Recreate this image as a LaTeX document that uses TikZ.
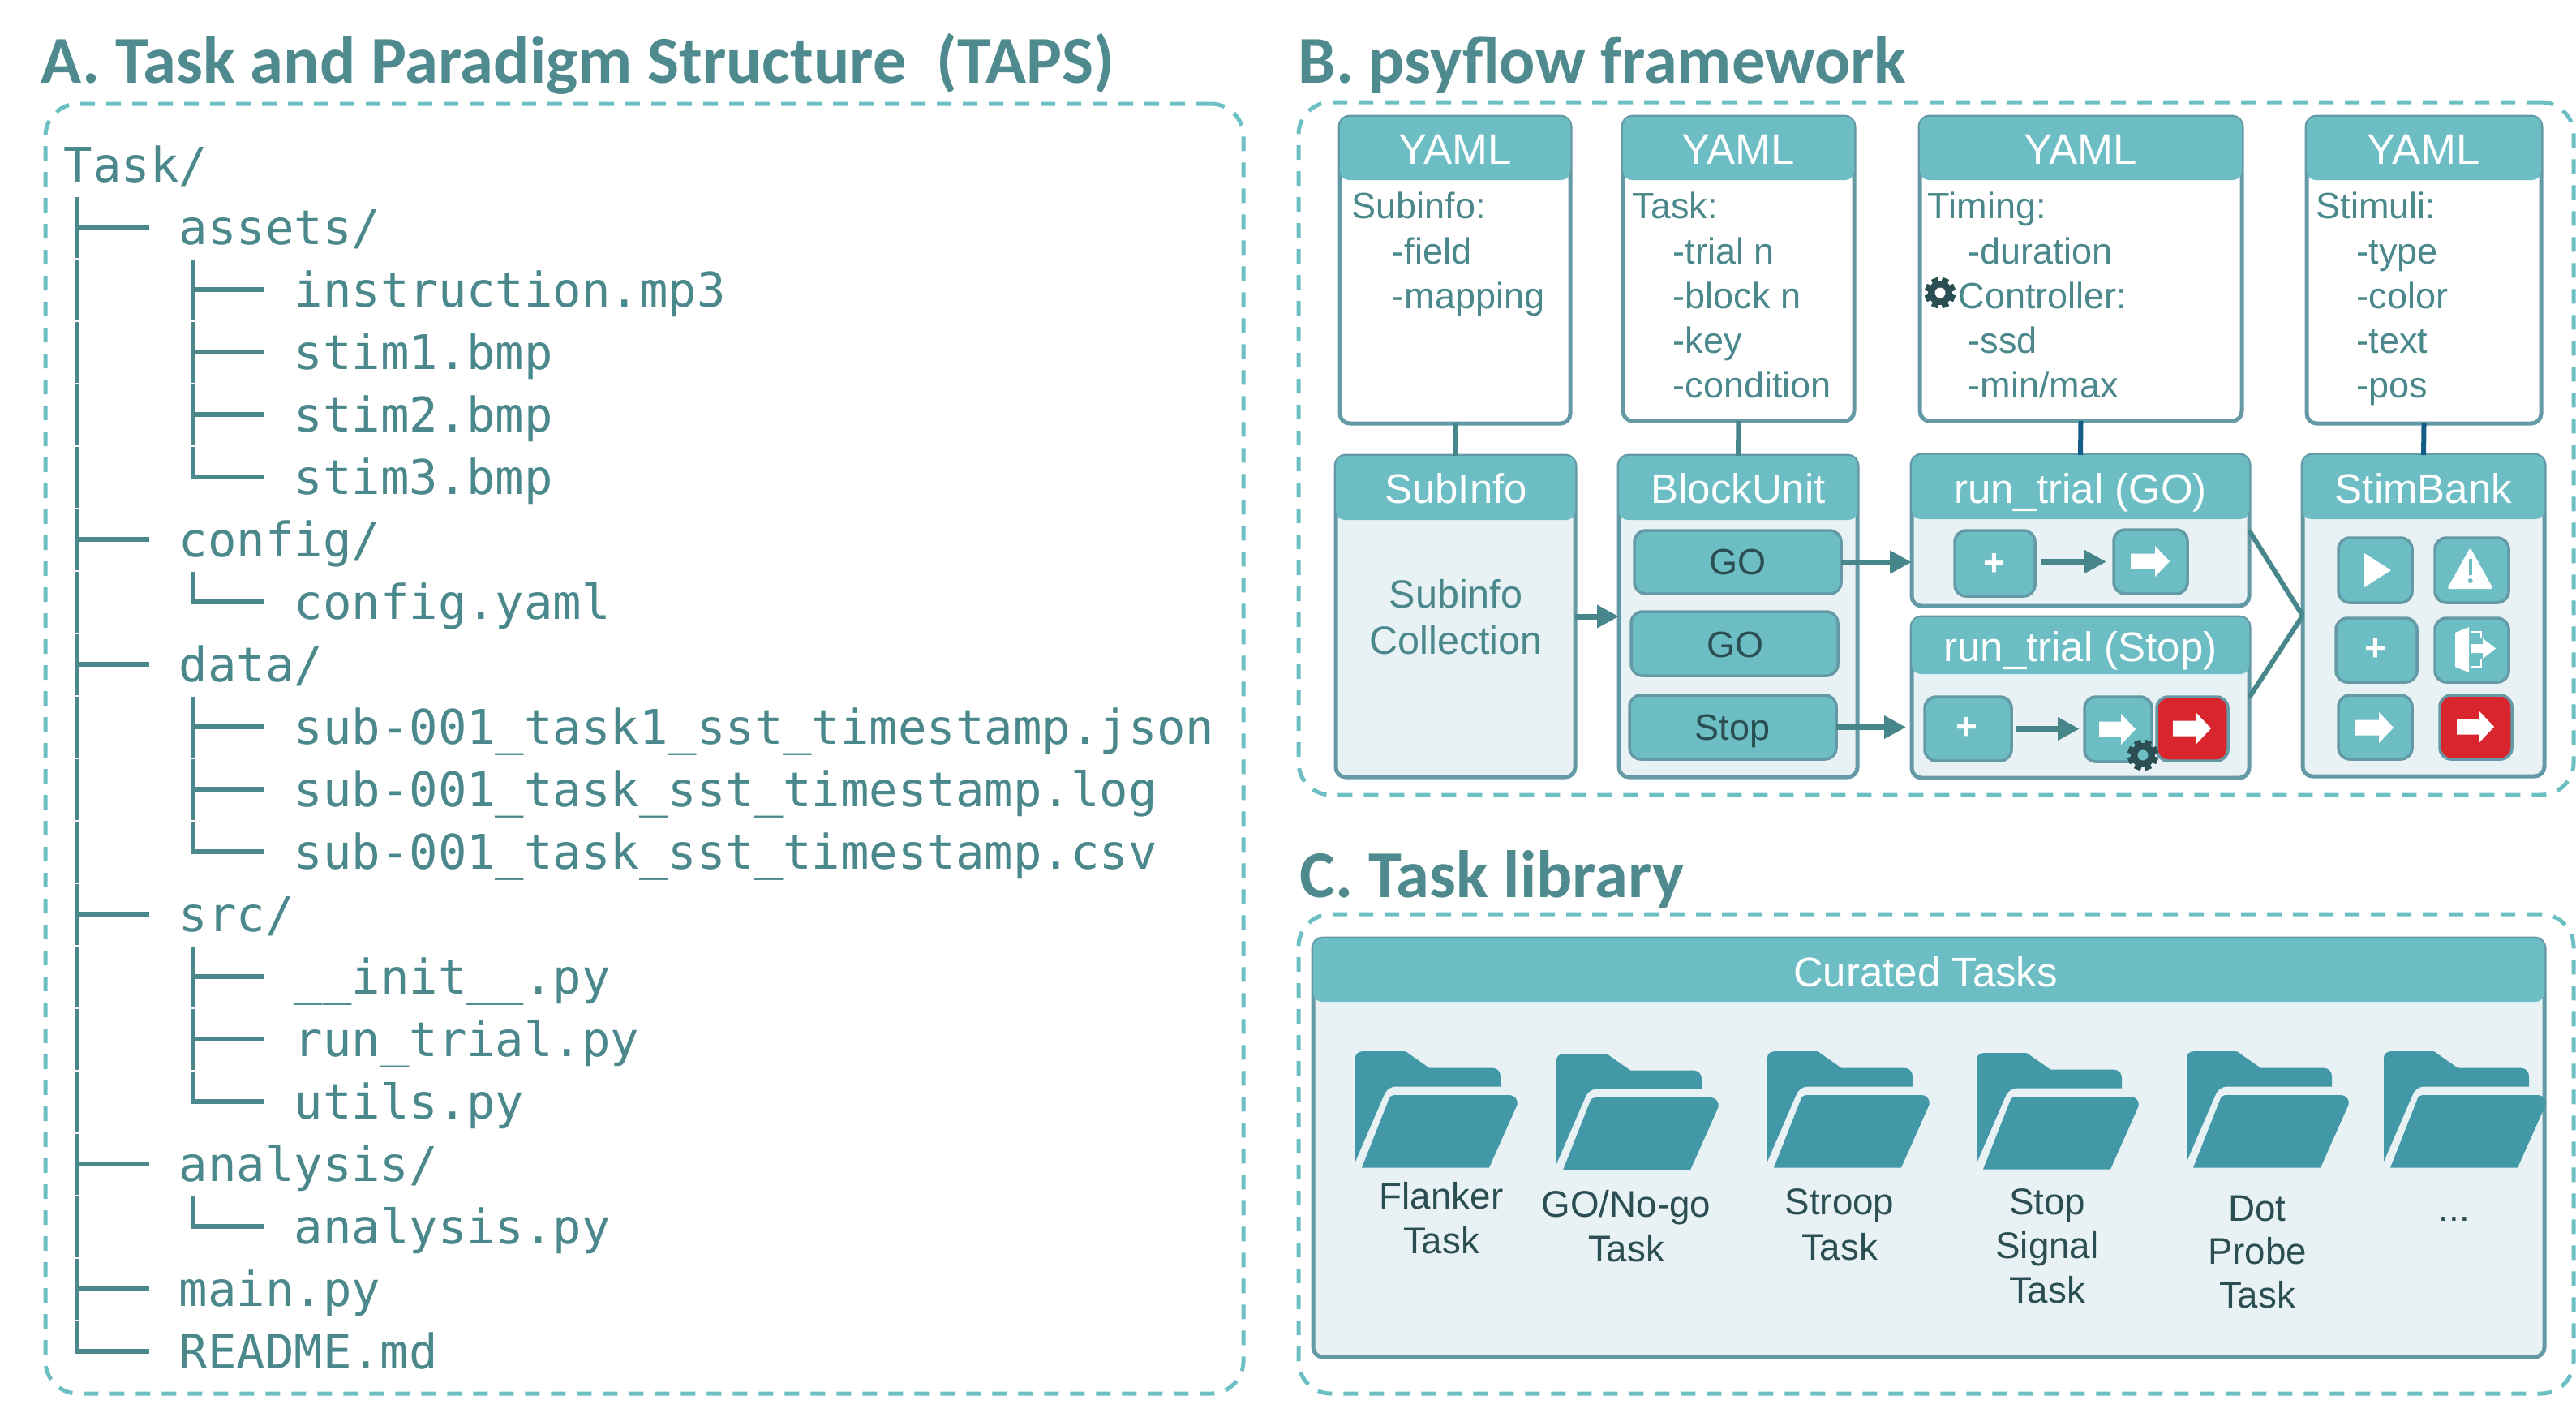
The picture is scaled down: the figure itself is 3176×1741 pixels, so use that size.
\documentclass[tikz,border=0pt]{standalone}
\usepackage{fontspec}
\usetikzlibrary{arrows.meta}
\setmainfont{Liberation Sans}
\newfontfamily\titlefnt{Carlito}
\newfontfamily\monofnt{DejaVu Sans Mono}
\newdimen\pxu \pxu=0.01cm
\definecolor{headteal}{HTML}{6CBEC4}
\definecolor{borderteal}{HTML}{6499A6}
\definecolor{bodytint}{HTML}{E8F1F3}
\definecolor{texteal}{HTML}{4A888C}
\definecolor{titleteal}{HTML}{4F8A8E}
\definecolor{darkteal}{HTML}{2A4E52}
\definecolor{folderteal}{HTML}{4298A6}
\definecolor{dashteal}{HTML}{6CC0C4}
\definecolor{linkteal}{HTML}{47868A}
\definecolor{linkblue}{HTML}{145E85}
\definecolor{alarmred}{HTML}{D9262E}
\tikzset{
  panelbox/.style={draw=dashteal,line width=5\pxu,rounded corners=40\pxu,dash pattern=on 18\pxu off 14\pxu},
  cardbody/.style={draw=borderteal,line width=5\pxu,rounded corners=12\pxu},
  cardhead/.style={fill=headteal,rounded corners=11\pxu},
  innerbtn/.style={draw=borderteal,fill=headteal,line width=3.5\pxu,rounded corners=14\pxu},
  redbtn/.style={draw=borderteal,fill=alarmred,line width=3.5\pxu,rounded corners=14\pxu},
  titletext/.style={text=titleteal,font={\titlefnt\bfseries\fontsize{23.5}{25}\selectfont}},
  treetext/.style={text=texteal,font={\monofnt\fontsize{16.75}{18}\selectfont},anchor=base west,inner sep=0},
  headtext/.style={text=white,font={\fontsize{14.5}{16}\selectfont},anchor=base,inner sep=0},
  yamltext/.style={text=white,font={\fontsize{15}{17}\selectfont},anchor=base,inner sep=0},
  bodytext/.style={text=texteal,font={\fontsize{12.8}{14}\selectfont},anchor=base west,inner sep=0},
  midtext/.style={text=texteal,font={\fontsize{13.8}{15}\selectfont},anchor=base,inner sep=0},
  btntext/.style={text=darkteal,font={\fontsize{12.8}{14}\selectfont},anchor=base,inner sep=0},
  foldertext/.style={text=darkteal,font={\fontsize{13}{14}\selectfont},anchor=base,inner sep=0},
  plustext/.style={text=white,font={\bfseries\fontsize{13.1}{14}\selectfont},inner sep=0},
  treeline/.style={draw=texteal},
  link/.style={draw=linkteal,line width=6\pxu},
  bluelink/.style={draw=linkblue,line width=6\pxu},
  flow/.style={draw=linkteal,line width=7\pxu,-{Triangle[length=0.27cm,width=0.27cm]}},
}
% box given by its edges
\newcommand\boxat[6]{\node[#1,inner sep=0,outer sep=0,minimum width={(#5-#3)*\pxu},minimum height={(#6-#4)*\pxu}] (#2) at ({(#3+#5)/2},{(#4+#6)/2}) {};}
% card: name, l, t, r, b, header bottom, body fill
\newcommand\card[7]{\boxat{cardbody,fill=#7}{#1}{#2}{#3}{#4}{#5}\boxat{cardhead}{#1-head}{#2}{#3}{#4}{#6}}
\newcommand\txt[5]{\node[#4] (#1) at (#2,#3) {#5};}
% tree rows
\newcommand\rowy[1]{(224.5+77*#1)}
\newcommand\treetee[2]{\draw[treeline,line width=5\pxu] ({#1},{\rowy{#2}-59}) -- ({#1},{\rowy{#2}+16});\draw[treeline,line width=6\pxu] ({#1},{\rowy{#2}-22}) -- ({#1+89},{\rowy{#2}-22});}
\newcommand\treeell[2]{\draw[treeline,line width=5\pxu] ({#1},{\rowy{#2}-59}) -- ({#1},{\rowy{#2}-19});\draw[treeline,line width=6\pxu] ({#1-2.5},{\rowy{#2}-22}) -- ({#1+89},{\rowy{#2}-22});}
\newcommand\treebar[2]{\draw[treeline,line width=5\pxu] ({#1},{\rowy{#2}-59}) -- ({#1},{\rowy{#2}+16});}
\newcommand\treeitem[4]{\node[treetext] (#1) at ({#2},{\rowy{#3}}) {#4};}
% block arrow: left x, right x, centre y, colour white
\newcommand\blockarrow[3]{\fill[white] (#1,{#3-9.5}) -- ({#2-18},{#3-9.5}) -- ({#2-18},{#3-19}) -- (#2,#3) -- ({#2-18},{#3+19}) -- ({#2-18},{#3+9.5}) -- (#1,{#3+9.5}) -- cycle;}
% gear: cx, cy, hole colour
\newcommand\gear[3]{\begin{scope}[shift={(#1,#2)}]
  \foreach \a in {0,45,...,315}{\fill[darkteal,rotate=\a+22.5] (-4,-19) rectangle (4,19);}
  \fill[darkteal] (0,0) circle (15);
  \fill[#3] (0,0) circle (6.5);
\end{scope}}
% folder: top left x, y
\newcommand\folder[2]{\begin{scope}[shift={(#1,#2)}]
  \fill[folderteal] (0,136) -- (0,8) .. controls (0,3) and (4,0) .. (10,0) -- (60,0) .. controls (63,0) and (64,1) .. (66,3) -- (91,20.5) -- (168,20.5) .. controls (175,20.5) and (179,25) .. (179,31) -- (179,43.5) -- (50,43.5) .. controls (42,43.5) and (37,49) .. (35,55) -- cycle;
  \fill[folderteal] (8,143.5) -- (41,60) .. controls (42,56) and (45,54) .. (49,54) -- (189,54) .. controls (197,54) and (201,60) .. (199.5,66) -- (165,143.5) -- cycle;
\end{scope}}
\begin{document}
\begin{tikzpicture}[x=0.01cm,y=-0.01cm]
\useasboundingbox (0,0) rectangle (3176,1741);
% titles
\node[titletext,anchor=base west,inner sep=0] (titleA) at (50,102) {A. Task and Paradigm Structure\ \ (TAPS)};
\node[titletext,anchor=base west,inner sep=0] (titleB) at (1600,102) {B. psyflow framework};
\node[titletext,anchor=base west,inner sep=0] (titleC) at (1602,1106) {C. Task library};
% panels
\boxat{panelbox}{panelA}{56}{128}{1533}{1718}
\boxat{panelbox}{panelB}{1601}{126}{3173}{980}
\boxat{panelbox}{panelC}{1601}{1127}{3173}{1718}
% tree
\treeitem{t0}{78}{0}{Task/}
\treeitem{t1}{220}{1}{assets/}
\treeitem{t2}{362}{2}{instruction.mp3}
\treeitem{t3}{362}{3}{stim1.bmp}
\treeitem{t4}{362}{4}{stim2.bmp}
\treeitem{t5}{362}{5}{stim3.bmp}
\treeitem{t6}{220}{6}{config/}
\treeitem{t7}{362}{7}{config.yaml}
\treeitem{t8}{220}{8}{data/}
\treeitem{t9}{362}{9}{sub-001\_task1\_sst\_timestamp.json}
\treeitem{t10}{362}{10}{sub-001\_task\_sst\_timestamp.log}
\treeitem{t11}{362}{11}{sub-001\_task\_sst\_timestamp.csv}
\treeitem{t12}{220}{12}{src/}
\treeitem{t13}{362}{13}{\_\_init\_\_.py}
\treeitem{t14}{362}{14}{run\_trial.py}
\treeitem{t15}{362}{15}{utils.py}
\treeitem{t16}{220}{16}{analysis/}
\treeitem{t17}{362}{17}{analysis.py}
\treeitem{t18}{220}{18}{main.py}
\treeitem{t19}{220}{19}{README.md}
\foreach \r in {1,6,8,12,16,18}{\treetee{95}{\r}}
\foreach \r in {2,3,4,5,7,9,10,11,13,14,15,17}{\treebar{95}{\r}}
\treeell{95}{19}
\foreach \r in {2,3,4,9,10,13,14}{\treetee{237}{\r}}
\foreach \r in {5,7,11,15,17}{\treeell{237}{\r}}
% YAML cards
\card{y1}{1652}{144}{1936}{522}{222}{white}
\card{y2}{2001}{144}{2286}{519}{222}{white}
\card{y3}{2367}{144}{2764}{519}{222}{white}
\card{y4}{2844}{144}{3133}{522}{222}{white}
\txt{y1t}{1794}{202}{yamltext}{YAML}
\txt{y2t}{2143}{202}{yamltext}{YAML}
\txt{y3t}{2565}{202}{yamltext}{YAML}
\txt{y4t}{2988}{202}{yamltext}{YAML}
\txt{y1a}{1666}{269}{bodytext}{Subinfo:}
\txt{y1b}{1716}{325}{bodytext}{-field}
\txt{y1c}{1716}{380}{bodytext}{-mapping}
\txt{y2a}{2012}{269}{bodytext}{Task:}
\txt{y2b}{2062}{325}{bodytext}{-trial n}
\txt{y2c}{2062}{380}{bodytext}{-block n}
\txt{y2d}{2062}{435}{bodytext}{-key}
\txt{y2e}{2062}{490}{bodytext}{-condition}
\txt{y3a}{2376}{269}{bodytext}{Timing:}
\txt{y3b}{2426}{325}{bodytext}{-duration}
\txt{y3c}{2414}{380}{bodytext}{Controller:}
\txt{y3d}{2426}{435}{bodytext}{-ssd}
\txt{y3e}{2426}{490}{bodytext}{-min/max}
\txt{y4a}{2855}{269}{bodytext}{Stimuli:}
\txt{y4b}{2905}{325}{bodytext}{-type}
\txt{y4c}{2905}{380}{bodytext}{-color}
\txt{y4d}{2905}{435}{bodytext}{-text}
\txt{y4e}{2905}{490}{bodytext}{-pos}
\gear{2392}{361}{white}
% class cards
\card{s1}{1647}{562}{1942}{958}{641}{bodytint}
\card{s2}{1996}{562}{2290}{958}{641}{bodytint}
\card{rgo}{2357}{561}{2773}{747}{640}{bodytint}
\card{rstop}{2357}{761}{2773}{959}{831}{bodytint}
\card{sb}{2839}{561}{3137}{957}{640}{bodytint}
\txt{s1t}{1795}{620}{headtext}{SubInfo}
\txt{s2t}{2143}{620}{headtext}{BlockUnit}
\txt{rgot}{2565}{620}{headtext}{run\_trial (GO)}
\txt{rstopt}{2565}{815}{headtext}{run\_trial (Stop)}
\txt{sbt}{2988}{620}{headtext}{StimBank}
\txt{s1a}{1795}{749}{midtext}{Subinfo}
\txt{s1b}{1795}{806}{midtext}{Collection}
% block buttons
\boxat{innerbtn}{go1}{2015}{654}{2270}{732}
\boxat{innerbtn}{go2}{2011}{754}{2266}{833}
\boxat{innerbtn}{stop}{2009}{857}{2264}{936}
\txt{go1t}{2142}{708}{btntext}{GO}
\txt{go2t}{2139}{810}{btntext}{GO}
\txt{stopt}{2136}{912}{btntext}{Stop}
% run_trial buttons
\boxat{innerbtn}{p1}{2410}{654}{2509}{735}
\boxat{innerbtn}{a1}{2606}{653}{2697}{732}
\boxat{innerbtn}{p2}{2373}{859}{2480}{938}
\boxat{innerbtn}{a2}{2570}{859}{2653}{939}
\boxat{redbtn}{r2}{2659}{859}{2747}{938}
\txt{p1t}{2459}{696}{plustext}{+}
\txt{p2t}{2425}{898}{plustext}{+}
\blockarrow{2627}{2675}{692}
\blockarrow{2588}{2633}{899}
\blockarrow{2679}{2726}{898}
\gear{2642}{931}{headteal}
% stim bank buttons
\boxat{innerbtn}{b1}{2883}{663}{2974}{743}
\boxat{innerbtn}{b2}{3002}{663}{3093}{743}
\boxat{innerbtn}{b3}{2880}{762}{2980}{841}
\boxat{innerbtn}{b4}{3002}{762}{3093}{841}
\boxat{innerbtn}{b5}{2883}{857}{2974}{936}
\boxat{redbtn}{b6}{3008}{857}{3097}{936}
\fill[white] (2915,682) -- (2948,703) -- (2915,724) -- cycle;
\fill[white,rounded corners=3\pxu] (3045.5,675) -- (3074,726) -- (3017,726) -- cycle;
\fill[headteal] (3044,689) rectangle (3047.5,709);
\fill[headteal] (3045.7,716) circle (3);
\txt{b3t}{2929}{801}{plustext}{+}
\fill[white] (3027,780) -- (3044,773) -- (3044,829) -- (3027,822) -- cycle;
\draw[white,line width=2\pxu] (3047,779) -- (3058.5,779) -- (3058.5,787);
\draw[white,line width=2\pxu] (3047,822) -- (3058.5,822) -- (3058.5,813);
\fill[white] (3047,794) -- (3061,794) -- (3061,787) -- (3077,799.5) -- (3061,812) -- (3061,805) -- (3047,805) -- cycle;
\blockarrow{2904}{2951}{897}
\blockarrow{3029}{3075}{896}
% connectors
\draw[link] (y1.south) -- (s1.north);
\draw[link] (y2.south) -- (s2.north);
\draw[bluelink] (y3.south) -- (rgo.north);
\draw[bluelink] (y4.south) -- (sb.north);
\draw[flow] (s1.east) -- (s2.west);
\draw[flow] (go1.east) -- (go1.east -| rgo.west);
\draw[flow] (stop.east) -- ([xshift=-7\pxu]stop.east -| rstop.west);
\draw[flow] ([xshift=8\pxu]p1.east |- a1.west) -- ([xshift=-9\pxu]a1.west);
\draw[flow] ([xshift=6\pxu]p2.east) -- ([xshift=-6\pxu]p2.east -| a2.west);
\draw[link] (rgo.east) -- (sb.west);
\draw[link] (rstop.east) -- (sb.west);
% curated tasks
\card{lib}{1619}{1157}{3137}{1673}{1235}{bodytint}
\txt{libt}{2374}{1216}{headtext}{Curated Tasks}
\folder{1671}{1296}
\folder{1919}{1299}
\folder{2179}{1296}
\folder{2437}{1298}
\folder{2696}{1296}
\folder{2939}{1296}
\txt{f1a}{1777}{1490}{foldertext}{Flanker}
\txt{f1b}{1777}{1545}{foldertext}{Task}
\txt{f2a}{2005}{1500}{foldertext}{GO/No-go}
\txt{f2b}{2005}{1555}{foldertext}{Task}
\txt{f3a}{2268}{1497}{foldertext}{Stroop}
\txt{f3b}{2268}{1553}{foldertext}{Task}
\txt{f4a}{2524}{1497}{foldertext}{Stop}
\txt{f4b}{2524}{1551}{foldertext}{Signal}
\txt{f4c}{2524}{1606}{foldertext}{Task}
\txt{f5a}{2783}{1505}{foldertext}{Dot}
\txt{f5b}{2783}{1558}{foldertext}{Probe}
\txt{f5c}{2783}{1612}{foldertext}{Task}
\txt{f6a}{3026}{1505}{foldertext}{...}
\end{tikzpicture}
\end{document}
